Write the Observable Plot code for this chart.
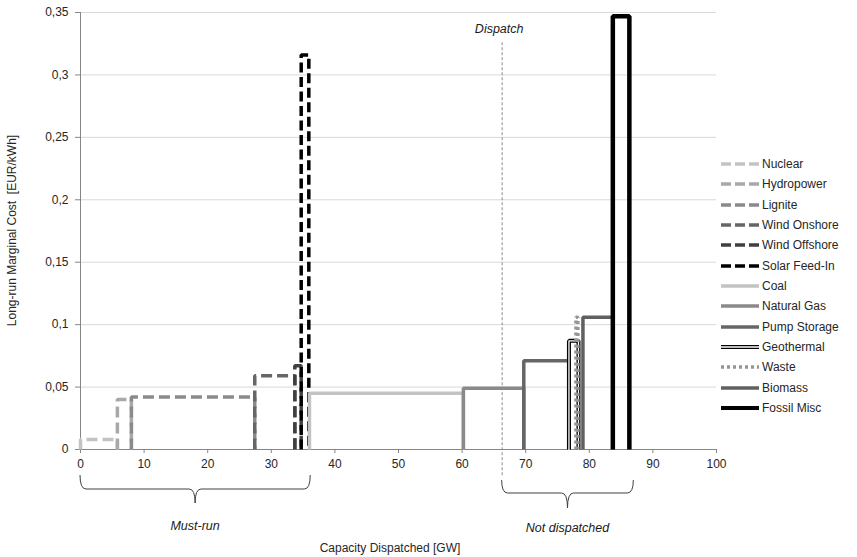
<!DOCTYPE html>
<html>
<head>
<meta charset="utf-8">
<script src="https://cdn.jsdelivr.net/npm/d3@7"></script>
<script src="https://cdn.jsdelivr.net/npm/@observablehq/plot@0.6"></script>
<style>
  html, body { margin: 0; padding: 0; background: #fff; }
  #wrap { position: relative; width: 857px; height: 557px; font-family: "Liberation Sans", Arial, sans-serif; }
  #legend { position: absolute; left: 721px; top: 154px; font-size: 12px; color: #262626; }
  .row { display: flex; align-items: center; height: 20.33px; }
  .row svg { margin-right: 3px; }
</style>
</head>
<body>
<div id="wrap"></div>
<script>
// ---- data ----
const names = ["Nuclear","Hydropower","Lignite","Wind Onshore","Wind Offshore","Solar Feed-In","Coal","Natural Gas","Pump Storage","Geothermal","Waste","Biomass","Fossil Misc"];
const capStart = [0, 5.8, 8.0, 27.4, 33.7, 34.7, 36.0, 60.2, 69.7, 76.8, 77.9, 79.0, 83.7];
const capEnd   = [5.8, 8.0, 27.4, 33.7, 34.7, 35.9, 60.2, 69.7, 76.8, 78.3, 78.2, 83.7, 86.3];
const cost     = [0.008, 0.040, 0.042, 0.059, 0.067, 0.316, 0.045, 0.049, 0.071, 0.087, 0.106, 0.106, 0.347];
const xTicks = [0,10,20,30,40,50,60,70,80,90,100];
const yTicks = [0,0.05,0.1,0.15,0.2,0.25,0.3,0.35];
const yTickLabels = ["0","0,05","0,1","0,15","0,2","0,25","0,3","0,35"];
const dispatchX = 66.3;
const braceLabels = ["Must-run","Not dispatched"];
const braceStart = [0, 66.3];
const braceEnd = [36.2, 87.0];

// ---- styles ----
const style = {
  "Nuclear":       {stroke:"#c3c3c3", dash:"11,5", w:3.5},
  "Hydropower":    {stroke:"#a9a9a9", dash:"11,5", w:3.5},
  "Lignite":       {stroke:"#8a8a8a", dash:"11,5", w:3.5},
  "Wind Onshore":  {stroke:"#666666", dash:"11,5", w:3.5},
  "Wind Offshore": {stroke:"#404040", dash:"11,5", w:3.5},
  "Solar Feed-In": {stroke:"#000000", dash:"10,4.5", w:3.5},
  "Coal":          {stroke:"#c3c3c3", dash:null, w:3.5},
  "Natural Gas":   {stroke:"#8a8a8a", dash:null, w:3.5},
  "Pump Storage":  {stroke:"#666666", dash:null, w:3.5},
  "Geothermal":    {stroke:"#000000", dash:null, w:4, double:true},
  "Waste":         {stroke:"#969696", dash:"3,3", w:3.5},
  "Biomass":       {stroke:"#606060", dash:null, w:3.5},
  "Fossil Misc":   {stroke:"#000000", dash:null, w:4.5}
};
// brace pixel offsets below the x axis: [vertical end, horizontal, tip, label centre]
const braceOffsets = [[26, 40, 54, 81], [31, 44, 59, 83]];

function outline(i) {
  return [
    {x: capStart[i], y: 0},
    {x: capStart[i], y: cost[i]},
    {x: capEnd[i], y: cost[i]},
    {x: capEnd[i], y: 0}
  ];
}

const seriesMarks = [];
names.forEach((n, i) => {
  const s = style[n];
  seriesMarks.push(Plot.line(outline(i), {x:"x", y:"y", stroke:s.stroke, strokeWidth:s.w,
    strokeDasharray:s.dash || undefined, strokeLinejoin:"miter", strokeLinecap:"butt", curve:"linear"}));
  if (s.double) {
    seriesMarks.push(Plot.line(outline(i), {x:"x", y:"y", stroke:"#ffffff", strokeWidth:1.3, strokeLinejoin:"miter"}));
  }
});

const braces = braceLabels.map((l, i) => ({label: l, x0: braceStart[i], x1: braceEnd[i], off: braceOffsets[i]}));

function annotations(index, scales, values, dimensions) {
  const {x} = scales;
  const ns = "http://www.w3.org/2000/svg";
  const g = document.createElementNS(ns, "g");
  const base = dimensions.height - dimensions.marginBottom;
  braces.forEach(b => {
    const a = x(b.x0), c = x(b.x1), m = (a + c) / 2;
    const top = base + b.off[0], mid = base + b.off[1], tip = base + b.off[2];
    const p = document.createElementNS(ns, "path");
    p.setAttribute("d", `M${a},${top} Q${a},${mid} ${a+6},${mid} L${m-6},${mid} Q${m},${mid} ${m},${tip} Q${m},${mid} ${m+6},${mid} L${c-6},${mid} Q${c},${mid} ${c},${top}`);
    p.setAttribute("fill", "none");
    p.setAttribute("stroke", "#404040");
    p.setAttribute("stroke-width", "1");
    g.appendChild(p);
    const t = document.createElementNS(ns, "text");
    t.setAttribute("x", m);
    t.setAttribute("y", base + b.off[3]);
    t.setAttribute("text-anchor", "middle");
    t.setAttribute("font-style", "italic");
    t.setAttribute("font-size", "12.5");
    t.setAttribute("fill", "#1a1a1a");
    t.textContent = b.label;
    g.appendChild(t);
  });
  // axis titles
  const xt = document.createElementNS(ns, "text");
  xt.setAttribute("x", 390);
  xt.setAttribute("y", base + 103);
  xt.setAttribute("text-anchor", "middle");
  xt.setAttribute("font-size", "12");
  xt.setAttribute("fill", "#262626");
  xt.textContent = "Capacity Dispatched [GW]";
  g.appendChild(xt);
  const yt = document.createElementNS(ns, "text");
  const cy = (dimensions.marginTop + base) / 2;
  yt.setAttribute("transform", `translate(16,${cy}) rotate(-90)`);
  yt.setAttribute("text-anchor", "middle");
  yt.setAttribute("font-size", "12");
  yt.setAttribute("fill", "#262626");
  yt.textContent = "Long-run Marginal Cost  [EUR/kWh]";
  yt.setAttribute("xml:space", "preserve");
  yt.style.whiteSpace = "pre";
  g.appendChild(yt);
  return g;
}

const chart = Plot.plot({
  width: 857,
  height: 557,
  marginLeft: 80,
  marginRight: 141,
  marginTop: 12,
  marginBottom: 108,
  style: {fontFamily: "Liberation Sans, Arial, sans-serif", fontSize: "12px", background: "#fff", overflow: "visible"},
  x: {domain: [0, 100]},
  y: {domain: [0, 0.35]},
  marks: [
    Plot.ruleY(yTicks.slice(1), {stroke: "#d9d9d9", strokeWidth: 1}),
    Plot.axisX({ticks: xTicks, tickSize: 4, tickPadding: 6, stroke: "#868686", fill: "#262626", fontSize: 12, label: null}),
    Plot.axisY({ticks: yTicks, tickFormat: (d) => yTickLabels[yTicks.indexOf(d)], tickSize: 5, tickPadding: 7, stroke: "#868686", fill: "#262626", fontSize: 12, label: null}),
    Plot.ruleX([0], {stroke: "#868686"}),
    Plot.ruleY([0], {stroke: "#868686"}),
    Plot.ruleX([dispatchX], {y1: -0.021, y2: 0.327, stroke: "#8c8c8c", strokeWidth: 1, strokeDasharray: "3,2", clip: false}),
    Plot.text([dispatchX], {x: d => d, y: 0.35, dy: 16, dx: -3, text: () => "Dispatch", fontStyle: "italic", fontSize: 12.5, fill: "#1a1a1a"}),
    ...seriesMarks,
    annotations
  ]
});

const wrap = document.getElementById("wrap");
wrap.appendChild(chart);

// legend
const legend = document.createElement("div");
legend.id = "legend";
names.forEach(n => {
  const s = style[n];
  const row = document.createElement("div");
  row.className = "row";
  let sw;
  if (s.double) {
    sw = `<line x1="0" y1="5" x2="38" y2="5" stroke="#000" stroke-width="4"/><line x1="0" y1="5" x2="38" y2="5" stroke="#fff" stroke-width="1.3"/>`;
  } else {
    sw = `<line x1="0" y1="5" x2="38" y2="5" stroke="${s.stroke}" stroke-width="${Math.min(s.w,4)}" ${s.dash ? `stroke-dasharray="${s.dash === '3,3' ? '3,3' : '10,4'}"` : ""}/>`;
  }
  row.innerHTML = `<svg width="38" height="10">${sw}</svg><span>${n}</span>`;
  legend.appendChild(row);
});
wrap.appendChild(legend);
</script>
</body>
</html>
